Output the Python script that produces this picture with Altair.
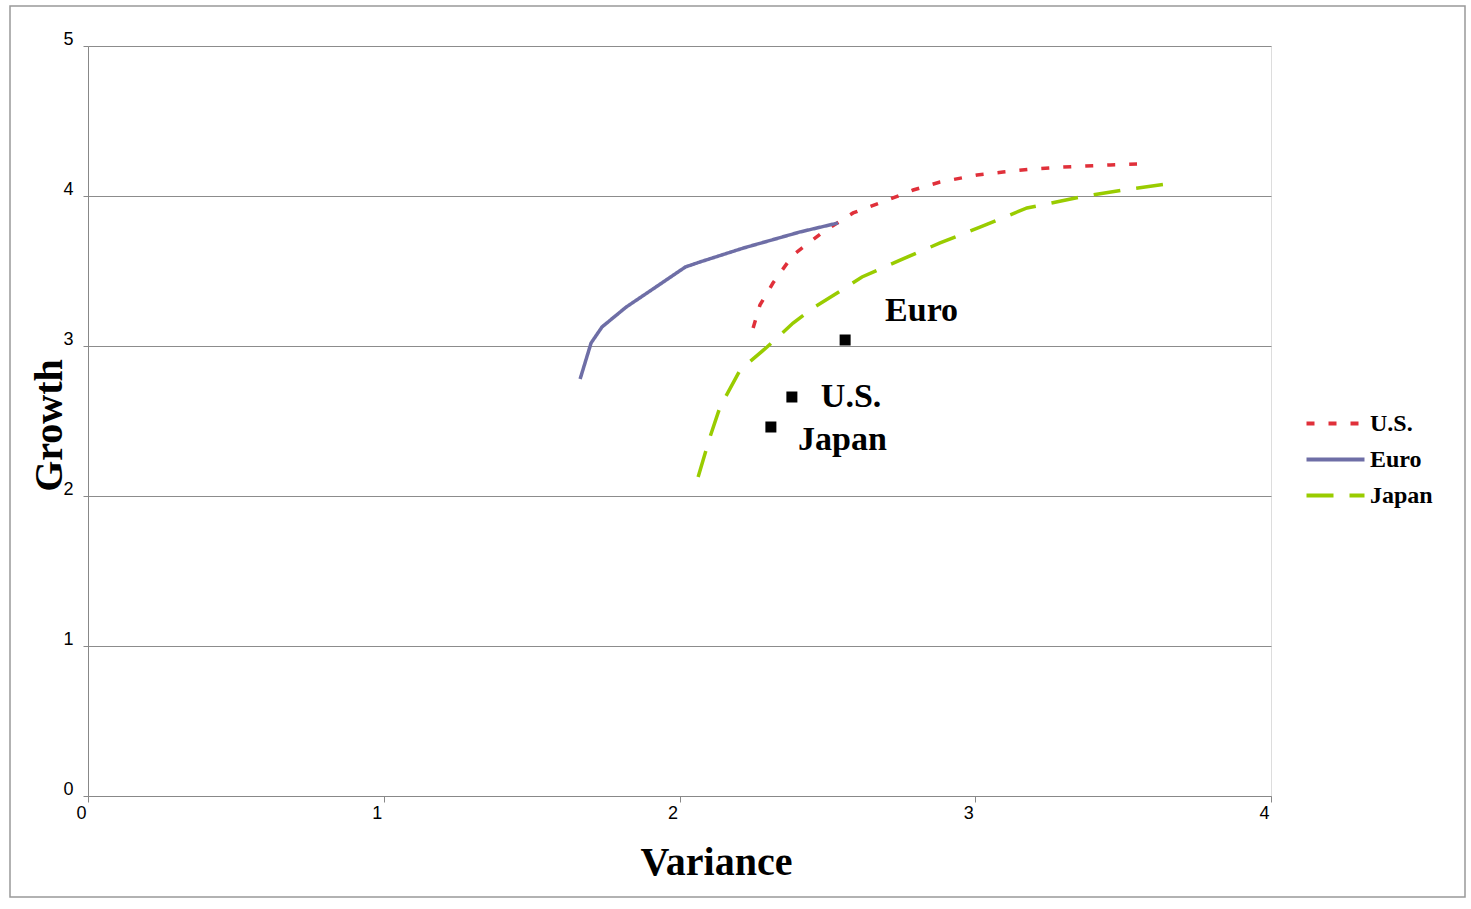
import altair as alt
import pandas as pd

# Curves (Variance, Growth)
us_x = [2.249, 2.272, 2.316, 2.384, 2.485, 2.587, 2.722, 2.79, 2.881, 3.006, 3.094, 3.195, 3.297, 3.456, 3.547]
us_y = [3.12, 3.273, 3.42, 3.607, 3.76, 3.887, 3.987, 4.04, 4.093, 4.14, 4.16, 4.18, 4.193, 4.207, 4.213]

euro_x = [1.664, 1.701, 1.738, 1.82, 1.92, 2.02, 2.069, 2.216, 2.407, 2.536]
euro_y = [2.78, 3.02, 3.127, 3.26, 3.393, 3.527, 3.56, 3.653, 3.76, 3.82]

japan_x = [2.063, 2.103, 2.137, 2.205, 2.296, 2.384, 2.451, 2.533, 2.617, 2.746, 2.881, 3.016, 3.175, 3.354, 3.5, 3.648]
japan_y = [2.127, 2.393, 2.593, 2.84, 2.993, 3.153, 3.253, 3.353, 3.46, 3.573, 3.687, 3.793, 3.92, 3.993, 4.04, 4.08]

# Single points
pt_names = ["Euro", "U.S.", "Japan"]
pt_x = [2.56, 2.38, 2.309]
pt_y = [3.04, 2.66, 2.46]
lbl_x = [2.695, 2.478, 2.401]
lbl_y = [3.233, 2.66, 2.373]

series_order = ["U.S.", "Euro", "Japan"]
series_colors = ["#E0303A", "#6E6EA6", "#99CC00"]
series_dash = [[8, 14], [1, 0], [27, 16]]

rows = []
for name, xs, ys in [("U.S.", us_x, us_y), ("Euro", euro_x, euro_y), ("Japan", japan_x, japan_y)]:
    for i, (a, b) in enumerate(zip(xs, ys)):
        rows.append({"series": name, "x": a, "y": b, "i": i})
lines_df = pd.DataFrame(rows)
pts_df = pd.DataFrame({"name": pt_names, "x": pt_x, "y": pt_y, "lx": lbl_x, "ly": lbl_y})

W, H = 1183, 750
SERIF = "Liberation Serif"
SANS = "Liberation Sans"

xscale = alt.Scale(domain=[0, 4], nice=False)
yscale = alt.Scale(domain=[0, 5], nice=False)

xaxis = alt.Axis(values=[0, 1, 2, 3, 4], format="d", grid=False, title="Variance",
                 titleFont=SERIF, titleFontSize=40, titleFontWeight="bold", titleColor="black",
                 titleX=628, titleY=66, titleBaseline="middle", titleAlign="center",
                 labelFont=SANS, labelFontSize=18, labelColor="black", labelOffset=-7, labelPadding=2,
                 tickSize=6, tickColor="#888888", domainColor="#888888", labelFlush=False)
yaxis = alt.Axis(values=[0, 1, 2, 3, 4, 5], format="d", grid=True, gridColor="#8c8c8c", gridWidth=1,
                 title="Growth",
                 titleFont=SERIF, titleFontSize=40, titleFontWeight="bold", titleColor="black",
                 titleX=-39, titleY=379, titleAngle=-90, titleAlign="center", titleBaseline="middle",
                 labelFont=SANS, labelFontSize=18, labelColor="black", labelOffset=-7, labelPadding=10,
                 tickSize=5, tickColor="#888888", domainColor="#888888", labelFlush=False)

lines = alt.Chart(lines_df).mark_line(strokeWidth=3.5, clip=False).encode(
    x=alt.X("x:Q", scale=xscale, axis=xaxis),
    y=alt.Y("y:Q", scale=yscale, axis=yaxis),
    color=alt.Color("series:N", scale=alt.Scale(domain=series_order, range=series_colors),
                    legend=alt.Legend(title=None, orient="none", legendX=1231, legendY=361,
                                      symbolType="M-2,0H2", symbolSize=841, symbolStrokeWidth=4,
                                      labelFont=SERIF, labelFontSize=24, labelFontWeight="bold",
                                      labelColor="black", labelOffset=18, rowPadding=7, padding=0)),
    strokeDash=alt.StrokeDash("series:N", scale=alt.Scale(domain=series_order, range=series_dash),
                              legend=None),
    detail="series:N",
    order="i:Q",
)

squares = alt.Chart(pts_df).mark_square(size=121, color="black", opacity=1, filled=True).encode(
    x="x:Q", y="y:Q"
)

labels = alt.Chart(pts_df).mark_text(font=SERIF, fontSize=34, fontWeight="bold", align="left",
                                      baseline="middle", color="black").encode(
    x="lx:Q", y="ly:Q", text="name:N"
)

border = alt.Chart(pd.DataFrame({"k": [0]})).mark_rect(fill=None, stroke="#999999", strokeWidth=1.5).encode(
    x=alt.value(-78), x2=alt.value(1377), y=alt.value(-40), y2=alt.value(851)
)

chart = alt.layer(border, lines, squares, labels).properties(
    width=W, height=H,
    autosize=alt.AutoSizeParams(type="none"),
    padding={"left": 88, "top": 46, "right": 200, "bottom": 113},
).configure_view(stroke=None).configure(background="white")

chart.save("out.html", embed_options={"renderer": "svg", "actions": False})
